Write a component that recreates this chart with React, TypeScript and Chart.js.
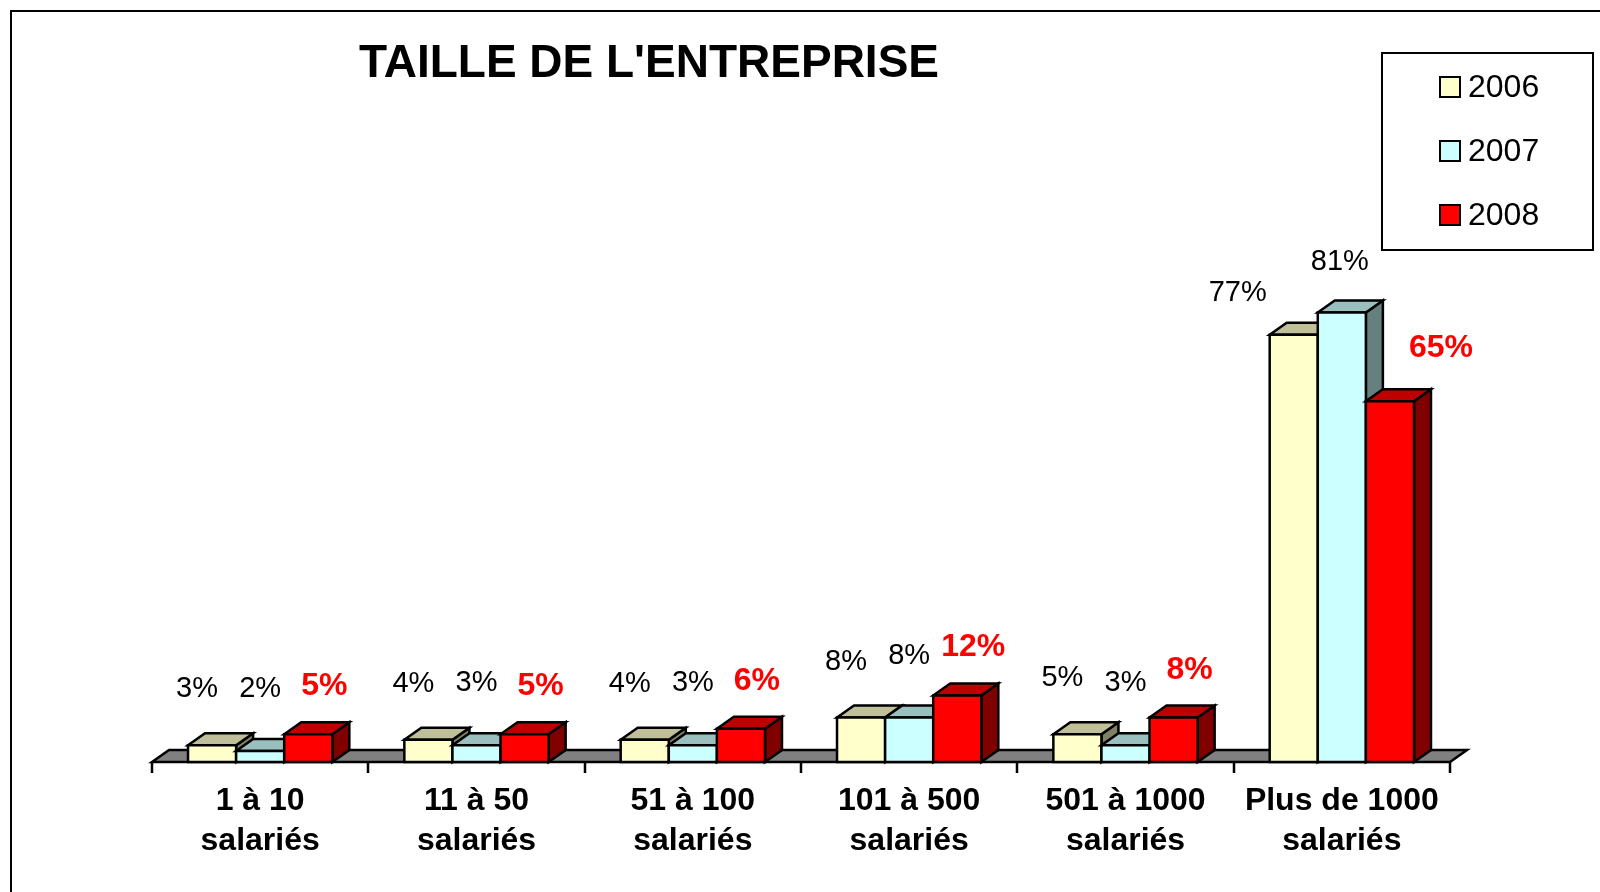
import React, { useEffect, useRef } from "react";
import { Chart, registerables } from "chart.js";

Chart.register(...registerables);

// ---- Data ----
const TITLE = "TAILLE DE L'ENTREPRISE";
const categories: string[][] = [
  ["1 à 10", "salariés"],
  ["11 à 50", "salariés"],
  ["51 à 100", "salariés"],
  ["101 à 500", "salariés"],
  ["501 à 1000", "salariés"],
  ["Plus de 1000", "salariés"],
];
const seriesNames = ["2006", "2007", "2008"];
const values2006 = [3, 4, 4, 8, 5, 77];
const values2007 = [2, 3, 3, 8, 3, 81];
const values2008 = [5, 5, 6, 12, 8, 65];
const yMin = 0;
const yMax = 100;

// ---- Styles ----
const FONT = "'Liberation Sans', Arial, Helvetica, sans-serif";
const DX = 17;
const DY = -12;
const FRONT = ["#FFFFCC", "#CCFFFF", "#FF0000"];
const TOP = ["#BFBF99", "#99BFBF", "#BF0000"];
const SIDE = ["#808066", "#668080", "#800000"];
const LABEL_DX = [-15, 0, 16];
const LABEL_RISE = [48, 54, 39];

function poly(ctx: CanvasRenderingContext2D, pts: number[][], fill: string) {
  ctx.beginPath();
  ctx.moveTo(pts[0][0], pts[0][1]);
  for (let k = 1; k < pts.length; k++) ctx.lineTo(pts[k][0], pts[k][1]);
  ctx.closePath();
  ctx.fillStyle = fill;
  ctx.fill();
  ctx.stroke();
}

const threeDPlugin = {
  id: "threeD",
  beforeDatasetsDraw(chart: any) {
    const ctx: CanvasRenderingContext2D = chart.ctx;
    const { left, right, bottom } = chart.chartArea;
    ctx.save();
    ctx.lineWidth = 2.5;
    ctx.strokeStyle = "#000";
    ctx.lineJoin = "miter";
    // floor
    poly(
      ctx,
      [
        [left, bottom],
        [right, bottom],
        [right + DX, bottom + DY],
        [left + DX, bottom + DY],
      ],
      "#808080"
    );
    // ticks
    const n = chart.data.labels.length;
    ctx.beginPath();
    for (let i = 0; i <= n; i++) {
      const tx = Math.round(left + (i * (right - left)) / n);
      ctx.moveTo(tx, bottom);
      ctx.lineTo(tx, bottom + 11);
    }
    ctx.stroke();
    // bars (painter's order: left to right)
    for (let i = 0; i < n; i++) {
      for (let d = 0; d < chart.data.datasets.length; d++) {
        const el = chart.getDatasetMeta(d).data[i];
        const { x, y, base, width } = el.getProps(["x", "y", "base", "width"], true);
        const l = x - width / 2;
        const r = x + width / 2;
        poly(ctx, [[r, base], [r + DX, base + DY], [r + DX, y + DY], [r, y]], SIDE[d]);
        poly(ctx, [[l, y], [r, y], [r + DX, y + DY], [l + DX, y + DY]], TOP[d]);
        poly(ctx, [[l, base], [r, base], [r, y], [l, y]], FRONT[d]);
      }
    }
    ctx.restore();
    return false;
  },
  afterDraw(chart: any) {
    const ctx: CanvasRenderingContext2D = chart.ctx;
    const n = chart.data.labels.length;
    ctx.save();
    // outer border
    ctx.lineWidth = 2;
    ctx.strokeStyle = "#000";
    ctx.strokeRect(11, 11, 1700, 1000);

    // title
    ctx.fillStyle = "#000";
    ctx.font = `bold 46px ${FONT}`;
    ctx.textAlign = "center";
    ctx.textBaseline = "alphabetic";
    ctx.fillText(TITLE, 649, 77);

    // data labels
    for (let i = 0; i < n; i++) {
      for (let d = 0; d < chart.data.datasets.length; d++) {
        const v = chart.data.datasets[d].data[i];
        const el = chart.getDatasetMeta(d).data[i];
        let dx = LABEL_DX[d];
        if (v > 50) dx += d === 0 ? -41 : d === 2 ? 35 : -2;
        let rise = LABEL_RISE[d];
        if (v > 50) rise = d === 0 ? 34 : d === 1 ? 42 : 44;
        if (d === 2) {
          ctx.font = `bold 32px ${FONT}`;
          ctx.fillStyle = "#FF0000";
        } else {
          ctx.font = `29px ${FONT}`;
          ctx.fillStyle = "#000";
        }
        ctx.textAlign = "center";
        ctx.fillText(`${v}%`, el.x + dx, el.y - rise);
      }
    }

    // category labels
    ctx.fillStyle = "#000";
    ctx.font = `bold 32px ${FONT}`;
    ctx.textAlign = "center";
    const xs = chart.scales.x;
    for (let i = 0; i < n; i++) {
      const cx = xs.getPixelForValue(i);
      const lines = chart.data.labels[i] as string[];
      lines.forEach((t: string, k: number) => ctx.fillText(t, cx, 810 + k * 40));
    }

    // legend
    ctx.fillStyle = "#FFF";
    ctx.fillRect(1382, 53, 211, 197);
    ctx.lineWidth = 2;
    ctx.strokeStyle = "#000";
    ctx.strokeRect(1382, 53, 211, 197);
    const ly = [87, 151, 215];
    ctx.font = `32px ${FONT}`;
    ctx.textAlign = "left";
    ctx.textBaseline = "middle";
    for (let d = 0; d < seriesNames.length; d++) {
      ctx.fillStyle = FRONT[d];
      ctx.fillRect(1440, ly[d] - 10, 20, 20);
      ctx.strokeRect(1440, ly[d] - 10, 20, 20);
      ctx.fillStyle = "#000";
      ctx.fillText(seriesNames[d], 1468, ly[d] + 1);
    }
    ctx.restore();
  },
};

export default function App() {
  const ref = useRef<HTMLCanvasElement | null>(null);
  useEffect(() => {
    if (!ref.current) return;
    const chart = new Chart(ref.current, {
      type: "bar",
      data: {
        labels: categories as any,
        datasets: [
          { label: seriesNames[0], data: values2006, backgroundColor: FRONT[0] },
          { label: seriesNames[1], data: values2007, backgroundColor: FRONT[1] },
          { label: seriesNames[2], data: values2008, backgroundColor: FRONT[2] },
        ],
      },
      options: {
        responsive: false,
        animation: false,
        devicePixelRatio: 1,
        layout: { padding: { left: 152, right: 150, top: 207, bottom: 130 } },
        datasets: { bar: { categoryPercentage: 0.667, barPercentage: 1.0 } },
        plugins: {
          legend: { display: false },
          title: { display: false },
          tooltip: { enabled: false },
        },
        scales: {
          x: { display: false, offset: true, grid: { offset: true } },
          y: { display: false, min: yMin, max: yMax },
        },
      },
      plugins: [threeDPlugin],
    });
    return () => chart.destroy();
  }, []);
  return (
    <div style={{ position: "absolute", left: 0, top: 0, width: 1600, height: 892, background: "#fff" }}>
      <canvas ref={ref} width={1600} height={892} style={{ display: "block" }} />
    </div>
  );
}
